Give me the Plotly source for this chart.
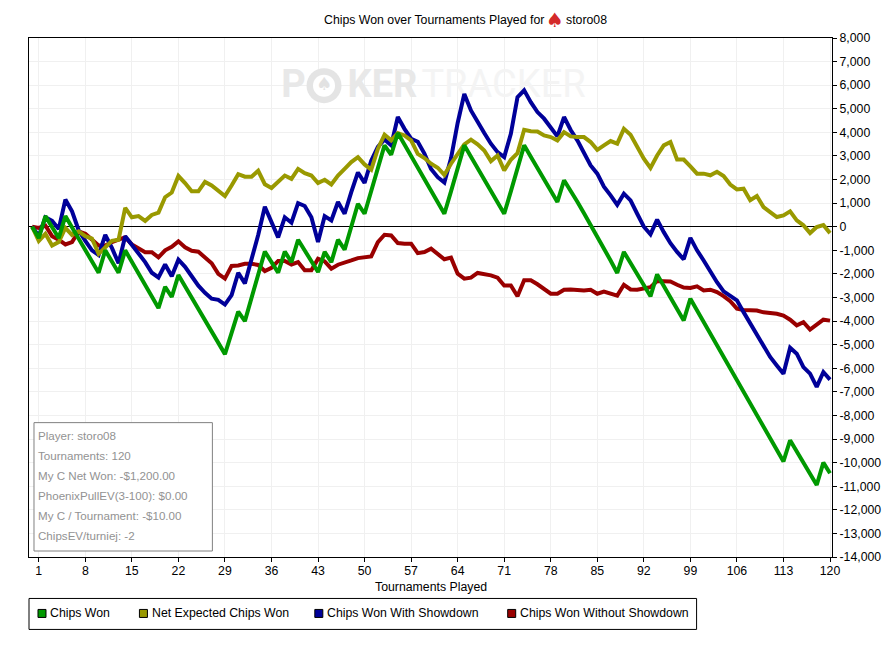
import plotly.graph_objects as go

# the page body has an 8px margin, so the figure is drawn 8px in and everything is laid out in
# reference pixels minus that offset
OFFSET = 8
W, H = 875, 631
LEFT, RIGHT, TOP, BOTTOM = 28.5 - OFFSET, 832 - OFFSET, 37.5 - OFFSET, 557 - OFFSET

tournaments = list(range(121))

chips_won = [
    0, -480, 450, 0, -480, 450, -30, -510, -990, -1470,
    -1950, -1000, -1480, -1950, -1000, -1490, -1980, -2470, -2960, -3450,
    -2550, -2980, -2050, -2530, -3010, -3490, -3970, -4450, -4930, -5400,
    -4500, -3600, -4000, -3050, -2050, -1050, -1500, -1950, -1050, -1500,
    -550, -1000, -1450, -1920, -1070, -1500, -550, -970, 0, 970,
    550, 1500, 2500, 3450, 3050, 3970, 3490, 3000, 2520, 2030,
    1540, 1050, 550, 1500, 2480, 3450, 2970, 2480, 2000, 1510,
    1030, 550, 1500, 2480, 3450, 2970, 2480, 2000, 1520, 1050,
    1970, 1550, 1060, 570, 80, -400, -900, -1430, -1960, -1070,
    -1540, -2010, -2480, -2950, -2020, -2500, -2990, -3480, -3970, -3050,
    -3540, -4030, -4530, -5020, -5510, -6000, -6500, -6990, -7480, -7970,
    -8470, -8960, -9450, -9950, -9050, -9520, -10000, -10470, -10950, -10000,
    -10450,
]

net_expected = [
    0, -600, -300, -800, -650, -50, -350, -200, -400, -500,
    -1150, -850, -600, -550, 800, 400, 450, 250, 500, 600,
    1250, 1450, 2150, 1850, 1500, 1500, 1900, 1750, 1500, 1300,
    1750, 2230, 2120, 2120, 2370, 1800, 1640, 1900, 2170, 2030,
    2450, 2270, 2170, 1850, 1990, 1790, 2170, 2450, 2740, 2950,
    2640, 2420, 3300, 3900, 3660, 3970, 3870, 3660, 3090, 2910,
    2670, 2500, 2200, 2670, 3100, 3490, 3690, 3490, 3230, 2780,
    3020, 2390, 2840, 3120, 4110, 4050, 4040, 3870, 3800, 3660,
    4010, 3830, 3800, 3800, 3590, 3260, 3450, 3630, 3520, 4150,
    3900, 3380, 2880, 2490, 3020, 3450, 3590, 2850, 2850, 2560,
    2250, 2250, 2180, 2330, 2150, 1790, 1580, 1610, 1120, 1300,
    830, 620, 410, 480, 650, 270, 60, -270, -15, 70,
    -270,
]

with_showdown = [
    0, -400, 400, 250, -100, 1150, 650, -150, -600, -1000,
    -1200, -350, -900, -1550, -400, -750, -1100, -1500, -1950, -2150,
    -1600, -2100, -1400, -1700, -2100, -2500, -2800, -3050, -3100, -3300,
    -2900, -1950, -2400, -1400, -350, 850, 200, -450, 400, 170,
    1000, 880, 400, -650, 450, 270, 1050, 550, 1470, 2300,
    1860, 2800, 3380, 3700, 3450, 4650, 4150, 3730, 3600, 3100,
    2450, 2100, 1870, 2900, 4400, 5630, 4930, 4430, 3970, 3520,
    3160, 2950, 3940, 5490, 5780, 5280, 4860, 4580, 4220, 3830,
    4650, 4100, 3660, 3090, 2600, 2250, 1700, 1330, 930, 1400,
    1120, 550, 0, -320, 300, -230, -700, -1070, -1380, -470,
    -1000, -1430, -1920, -2350, -2740, -2950, -3120, -3620, -4110, -4600,
    -5030, -5520, -5880, -6230, -5130, -5380, -5950, -6230, -6790, -6160,
    -6480,
]

without_showdown = [
    0, -50, 50, -400, -550, -750, -650, -200, -300, -550,
    -800, -800, -650, -550, -450, -750, -900, -1080, -1080, -1300,
    -1000, -850, -620, -870, -1020, -1060, -1300, -1550, -2000, -2200,
    -1660, -1640, -1570, -1570, -1620, -1880, -1740, -1450, -1450, -1600,
    -1500, -1850, -1850, -1360, -1470, -1780, -1610, -1500, -1430, -1330,
    -1290, -1260, -650, -340, -370, -690, -720, -720, -1120, -1070,
    -930, -1170, -1380, -1310, -1990, -2200, -2160, -1960, -1990, -2060,
    -2160, -2490, -2490, -2950, -2270, -2270, -2440, -2630, -2840, -2840,
    -2670, -2660, -2700, -2700, -2670, -2840, -2750, -2850, -2920, -2460,
    -2660, -2670, -2600, -2560, -2300, -2300, -2320, -2460, -2580, -2600,
    -2530, -2700, -2670, -2770, -2940, -3160, -3470, -3530, -3530, -3550,
    -3630, -3640, -3690, -3770, -3940, -4180, -4050, -4360, -4140, -3940,
    -3980,
]

x_ticks = list(range(1, 121, 7))
y_ticks = list(range(-14000, 8001, 1000))
y_labels = [f"{v:,}" for v in y_ticks]

info_lines = [
    "Player: storo08",
    "Tournaments: 120",
    "My C Net Won: -$1,200.00",
    "PhoenixPullEV(3-100): $0.00",
    "My C / Tournament: -$10.00",
    "ChipsEV/turniej: -2",
]

legend_names = ["Chips Won", "Net Expected Chips Won", "Chips Won With Showdown", "Chips Won Without Showdown"]
legend_colors = ["#009900", "#999900", "#000099", "#990000"]
legend_left = [37, 138.5, 314, 507]

FONT = "Liberation Sans"


def px(x):
    return (x - OFFSET - LEFT) / (RIGHT - LEFT)


def py(y):
    return (BOTTOM - (y - OFFSET)) / (BOTTOM - TOP)


def label(fig, x, y, text, size=12.3, color="#000000", anchor="left", family=FONT):
    # annotations carry about 2px of padding, taken off for left aligned text
    if anchor == "left":
        x -= 2
    fig.add_annotation(xref="paper", yref="paper", x=px(x), y=py(y), text=text, showarrow=False,
                       xanchor=anchor, yanchor="middle", align="left",
                       font=dict(family=family, size=size, color=color))


def mark_text(fig, x, y, text, family, size, color, bold=False):
    fig.add_trace(go.Scatter(x=[x], y=[y], mode="text", text=[text], showlegend=False, hoverinfo="skip",
                             textfont=dict(family=family, size=size, color=color,
                                           weight="bold" if bold else "normal")))


def mark_disc(fig, x, y, size, color):
    fig.add_trace(go.Scatter(x=[x], y=[y], mode="markers", showlegend=False, hoverinfo="skip",
                             marker=dict(size=size, color=color)))


fig = go.Figure()

# watermark goes in first as traces so the lines stay on top of it
mark_text(fig, 39.3, 5920, "P", "Roboto", 38, "#e8e8e8", bold=True)
mark_disc(fig, 43.9, 5980, 35, "#e4e4e4")
mark_disc(fig, 43.9, 5980, 22, "#ffffff")
mark_text(fig, 43.9, 5980, "♠", "DejaVu Sans", 18, "#e2e2e2")
mark_text(fig, 52.7, 5920, "KER", "Roboto", 38, "#e8e8e8", bold=True)
mark_text(fig, 70.9, 5920, "TRACKER", "Roboto", 38, "#f4f4f4")

series = [
    (without_showdown, legend_names[3], legend_colors[3]),
    (with_showdown, legend_names[2], legend_colors[2]),
    (net_expected, legend_names[1], legend_colors[1]),
    (chips_won, legend_names[0], legend_colors[0]),
]
for values, name, color in series:
    fig.add_trace(go.Scatter(x=tournaments, y=values, mode="lines", name=name, showlegend=False,
                             line=dict(color=color, width=4)))

# info box
fig.add_shape(type="rect", xref="paper", yref="paper", x0=px(33.5), x1=px(212), y0=py(551), y1=py(422.5),
              line=dict(color="#808080", width=1), fillcolor="#ffffff", layer="above")
for i, line in enumerate(info_lines):
    label(fig, 38, 435 + i * 20, line, size=11.6, color="#929292")

# legend box below the plot
fig.add_shape(type="rect", xref="paper", yref="paper", x0=px(28.5), x1=px(696.5), y0=py(629.5), y1=py(598.5),
              line=dict(color="#000000", width=1), fillcolor="#ffffff")
for name, color, x0 in zip(legend_names, legend_colors, legend_left):
    fig.add_shape(type="rect", xref="paper", yref="paper", x0=px(x0 + 0.5), x1=px(x0 + 8.5), y0=py(617.5), y1=py(609.5),
                  line=dict(color="#000000", width=1), fillcolor=color)
    label(fig, x0 + 13, 613.5, name)

label(fig, 324, 19, "Chips Won over Tournaments Played for")
label(fig, 555, 19.5, "♠", size=20, color="#d42a2a", anchor="center", family="DejaVu Sans")
label(fig, 565.5, 19, "storo08")
label(fig, 431, 587, "Tournaments Played", anchor="center")

fig.update_xaxes(range=[-0.47, 120.3], tickmode="array", tickvals=x_ticks, ticks="outside", ticklen=4,
                 tickcolor="#000000", showline=True, linecolor="#000000", linewidth=1, mirror=True,
                 showgrid=True, gridcolor="#f0f0f0", gridwidth=1, zeroline=False, ticklabelstandoff=-2)
fig.update_yaxes(range=[-14000, 8000], side="right", tickmode="array", tickvals=y_ticks, ticktext=y_labels,
                 ticks="outside", ticklen=4, tickcolor="#000000", showline=True, linecolor="#000000",
                 linewidth=1, mirror=True, showgrid=True, gridcolor="#f0f0f0", gridwidth=1,
                 zeroline=True, zerolinecolor="#000000", zerolinewidth=1)
fig.update_layout(width=W, height=H, plot_bgcolor="#ffffff", paper_bgcolor="#ffffff", showlegend=False,
                  margin=dict(l=LEFT, r=W - RIGHT, t=TOP, b=H - BOTTOM, autoexpand=False),
                  font=dict(family=FONT, size=12.3, color="#000000"))

fig.write_html("out.html")
